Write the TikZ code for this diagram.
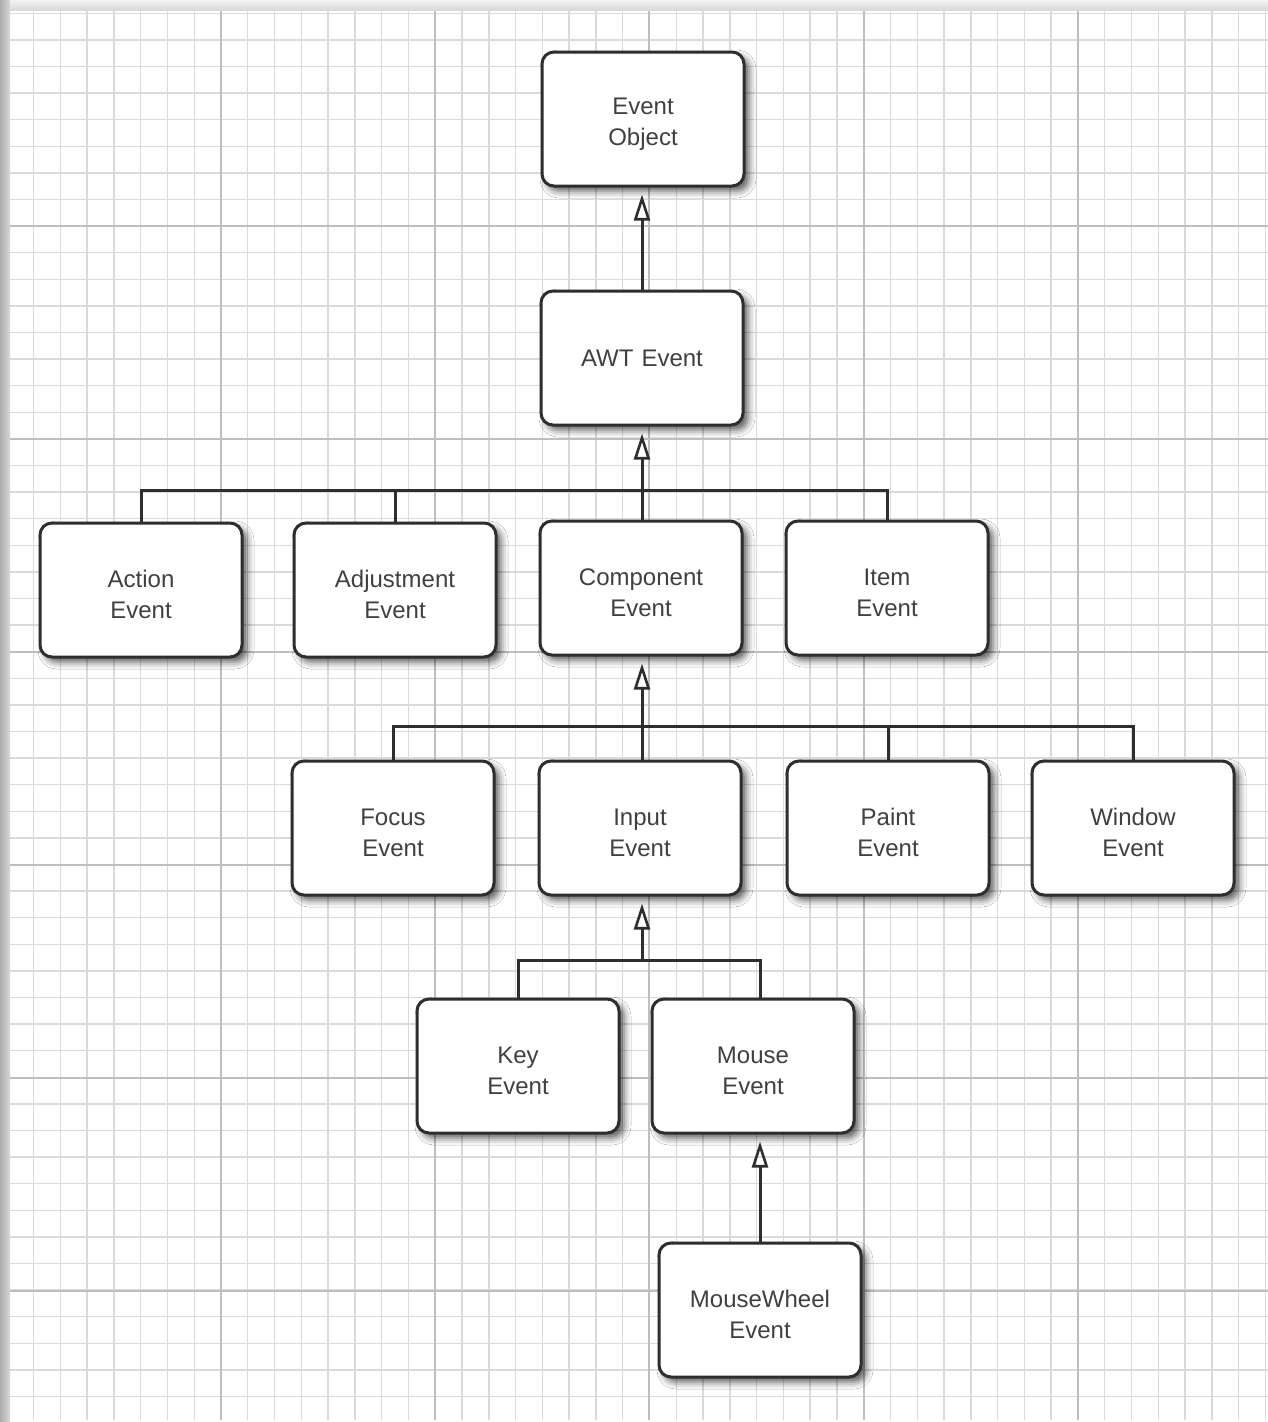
\documentclass[tikz,border=0pt]{standalone}
\usepackage{fontspec}
\setmainfont{Liberation Sans}
\usetikzlibrary{arrows.meta,shadows.blur}
\definecolor{ink}{HTML}{2E2E2E}
\definecolor{txt}{HTML}{404040}
\definecolor{gridminor}{HTML}{DADADA}
\definecolor{gridmajor}{HTML}{BEBEBE}
\begin{document}
\begin{tikzpicture}[x=1pt,y=-1pt,
  cls/.style={draw=ink, line width=3pt, rounded corners=12pt, fill=white,
    minimum width=202pt, minimum height=134pt, text width=190pt, align=center,
    font=\fontsize{24}{31}\selectfont, text=txt,
    blur shadow={shadow xshift=5pt, shadow yshift=-5pt, shadow blur radius=7pt, shadow opacity=65}},
  two/.style={cls, execute at begin node={\rule{0pt}{27pt}}},
  conn/.style={draw=ink, line width=3pt},
  inh/.style={conn, -{Triangle[open, length=26pt, width=16pt, line width=2.6pt]}, shorten >=7pt}]
\useasboundingbox (0,0) rectangle (1268,1422);
\fill[white] (0,0) rectangle (1268,1422);
% grid
\foreach \i in {1,...,47} \draw[gridminor, line width=1.4pt] ({221+(\i-8)*26.78},10) -- ({221+(\i-8)*26.78},1420);
\foreach \j in {0,...,52} \draw[gridminor, line width=1.4pt] (10,{226+(\j-8)*26.6}) -- (1268,{226+(\j-8)*26.6});
\foreach \i in {0,...,4} \draw[gridmajor, line width=2pt] ({221+\i*214.24},10) -- ({221+\i*214.24},1420);
\foreach \j in {0,...,5} \draw[gridmajor, line width=2pt] (10,{226+\j*213}) -- (1268,{226+\j*213});
% page edges
\shade[left color=gray!65, right color=gray!30] (0,0) rectangle (10,1422);
\shade[top color=gray!10, bottom color=gray!30] (10,0) rectangle (1268,10);
% classes
\node[two] (obj) at (643,119) {Event\\Object};
\node[cls] (awt) at (642,358) {AWT Event};
\node[two] (act) at (141,590) {Action\\Event};
\node[two] (adj) at (395,590) {Adjustment\\Event};
\node[two] (comp) at (641,588) {Component\\Event};
\node[two] (item) at (887,588) {Item\\Event};
\node[two] (focus) at (393,828) {Focus\\Event};
\node[two] (input) at (640,828) {Input\\Event};
\node[two] (paint) at (888,828) {Paint\\Event};
\node[two] (win) at (1133,828) {Window\\Event};
\node[two] (key) at (518,1066) {Key\\Event};
\node[two] (mouse) at (753,1066) {Mouse\\Event};
\node[two] (wheel) at (760,1310) {MouseWheel\\Event};
% buses
\coordinate (b1) at (642,490);
\coordinate (b2) at (642,726);
\coordinate (b3) at (642,960);
% connectors
\draw[inh] (awt.north -| b1) -- (b1 |- obj.south);
\draw[conn] (act.north) -- (act.north |- b1) -- (item.north |- b1) -- (item.north);
\draw[conn] (adj.north) -- (adj.north |- b1);
\draw[inh] (comp.north -| b1) -- (b1 |- awt.south);
\draw[conn] (focus.north) -- (focus.north |- b2) -- (win.north |- b2) -- (win.north);
\draw[conn] (paint.north) -- (paint.north |- b2);
\draw[inh] (input.north -| b2) -- (b2 |- comp.south);
\draw[conn] (key.north) -- (key.north |- b3) -- (wheel.north |- b3) -- (wheel.north |- mouse.north);
\draw[inh] (b3) -- (b3 |- input.south);
\draw[inh] (wheel.north) -- (wheel.north |- mouse.south);
\end{tikzpicture}
\end{document}
